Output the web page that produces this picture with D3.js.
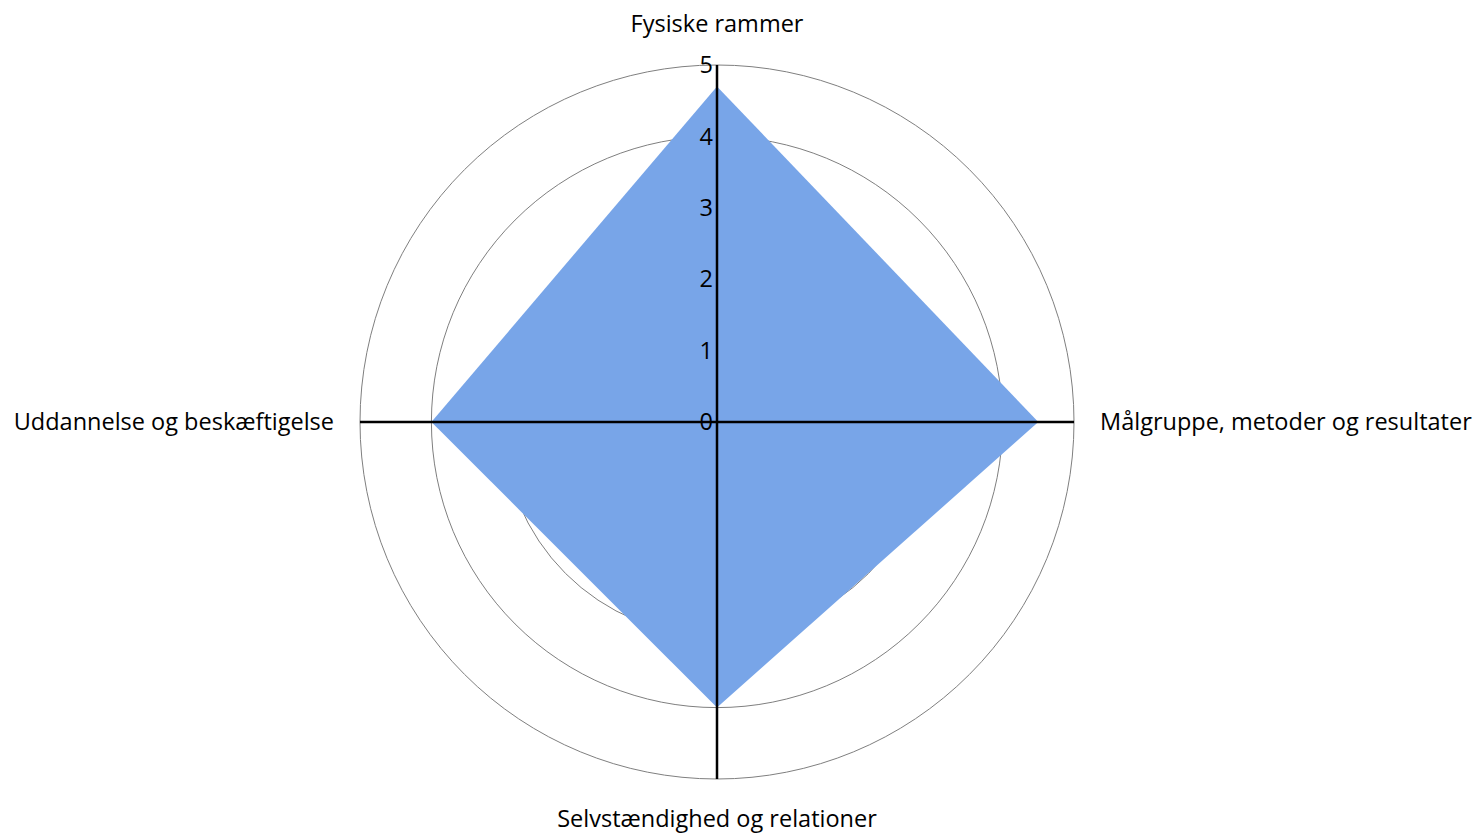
<!DOCTYPE html>
<html>
<head>
<meta charset="utf-8">
<script src="https://cdn.jsdelivr.net/npm/d3@7"></script>
<style>
  body { margin: 0; background: #fff; }
  text { font-family: "Open Sans", "Liberation Sans", sans-serif; fill: #000; }
</style>
</head>
<body>
<div id="chart"></div>
<script>
// data
var categories = ["Fysiske rammer", "Målgruppe, metoder og resultater", "Selvstændighed og relationer", "Uddannelse og beskæftigelse"];
var values = [4.7, 4.5, 4.0, 4.0];
var ticks = [0, 1, 2, 3, 4, 5];

var svgWidth = 1482;
var svgHeight = 834;
var cx = 717, cy = 422;
var radius = 357;

var svg = d3.select("#chart")
  .append("svg")
  .attr("width", svgWidth)
  .attr("height", svgHeight);

var g = svg.append("g")
  .attr("transform", `translate(${cx}, ${cy})`);

var rScale = d3.scaleLinear().domain([0, 5]).range([0, radius]);
var angle = d3.scaleLinear().domain([0, categories.length]).range([0, 2 * Math.PI]);

// grid circles
g.selectAll(".ring")
  .data(ticks.slice(1))
  .enter()
  .append("circle")
  .attr("r", d => rScale(d))
  .attr("fill", "none")
  .attr("stroke", "#7f7f7f")
  .attr("stroke-width", 1);

// filled area
var line = d3.lineRadial()
  .angle((d, i) => angle(i))
  .radius(d => rScale(d))
  .curve(d3.curveLinearClosed);

g.append("path")
  .datum(values)
  .attr("d", line)
  .attr("fill", "#78a5e8");

// axes
g.selectAll(".spoke")
  .data(categories)
  .enter()
  .append("line")
  .attr("x1", 0).attr("y1", 0)
  .attr("x2", (d, i) => rScale(5) * Math.sin(angle(i)))
  .attr("y2", (d, i) => -rScale(5) * Math.cos(angle(i)))
  .attr("stroke", "#000")
  .attr("stroke-width", 2.5);

// tick labels
g.selectAll(".tick")
  .data(ticks)
  .enter()
  .append("text")
  .attr("x", -4)
  .attr("y", d => -rScale(d))
  .attr("dy", "0.35em")
  .attr("text-anchor", "end")
  .style("font-size", "23.5px")
  .text(d => d);

// category labels
var labelPos = [
  {x: 0, y: -radius - 41, anchor: "middle"},
  {x: radius + 26, y: 0, anchor: "start"},
  {x: 0, y: radius + 40, anchor: "middle"},
  {x: -radius - 26, y: 0, anchor: "end"}
];
g.selectAll(".cat")
  .data(categories)
  .enter()
  .append("text")
  .attr("x", (d, i) => labelPos[i].x)
  .attr("y", (d, i) => labelPos[i].y)
  .attr("dy", "0.35em")
  .attr("text-anchor", (d, i) => labelPos[i].anchor)
  .style("font-size", "23.5px")
  .text(d => d);
</script>
</body>
</html>
